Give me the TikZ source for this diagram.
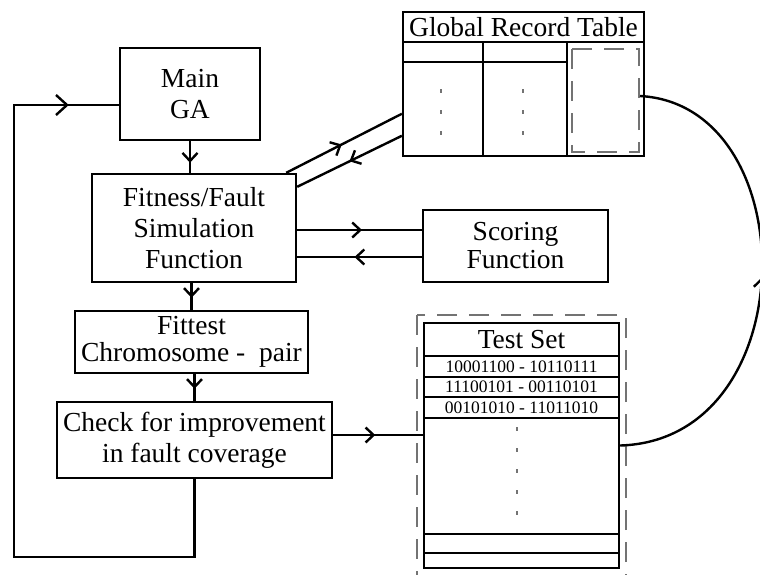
\documentclass[tikz,border=0pt]{standalone}
\usepackage{fontspec}
\setmainfont{Liberation Serif}
\usetikzlibrary{arrows.meta,decorations.markings,calc}
\begin{document}
\begin{tikzpicture}[x=1pt,y=-1pt,line width=2.4pt,
  box/.style={draw,rectangle,inner sep=0pt,align=center,font=\fontsize{27.5}{31}\selectfont},
  big/.style={inner sep=0pt,font=\fontsize{27.5}{31}\selectfont},
  small/.style={inner sep=0pt,font=\fontsize{17.5}{20}\selectfont},
  midarrow/.style={postaction={decorate},decoration={markings,mark=at position #1 with {\arrow{Straight Barb[length=8pt,width=15pt]}}}},
  loopstyle/.style={postaction={decorate},decoration={markings,mark=at position #1 with {\arrow{Straight Barb[length=11pt,width=20pt]}}}},
  faint/.style={draw=black!55,line width=1.5pt,dash pattern=on 20pt off 12pt},
  dots/.style={draw=black!55,line width=1.5pt,dash pattern=on 4pt off 17pt}]
\useasboundingbox (0,0) rectangle (760,574);
\clip (0,0) rectangle (760,574);

% boxes
\node[box,minimum width=140pt,minimum height=92pt] (main) at (190,94) {Main\\GA};
\node[box,minimum width=204pt,minimum height=108pt] (fit) at (194,228) {Fitness/Fault\\Simulation\\Function};
\node[box,minimum width=233pt,minimum height=62pt,font=\fontsize{27.5}{27}\selectfont] (fittest) at (191.5,342) {Fittest\\Chromosome - \ pair};
\node[box,minimum width=275pt,minimum height=76pt] (check) at (194.5,440) {Check for improvement\\in fault coverage};
\node[box,minimum width=185pt,minimum height=72pt,font=\fontsize{27.5}{28}\selectfont] (score) at (515.5,246) {Scoring\\Function};

% Global Record Table
\node[box,minimum width=241pt,minimum height=144pt] (grt) at (523.5,84) {};
\node[big] (grttitle) at (523.5,27) {Global Record Table};
\draw (403,42) -- (644,42);
\draw (483,42) -- (483,156);
\draw (567,42) -- (567,156);
\draw (403,62) -- (567,62);
\draw[dots] (441,89) -- (441,135);
\draw[dots] (523,89) -- (523,135);
\draw[faint] (572,49) rectangle (639,152);

% Test Set
\node[box,minimum width=195pt,minimum height=245pt] (test) at (521.5,445.5) {};
\node[big] (testtitle) at (521.5,340) {Test Set};
\foreach \yy in {356,377,397,418,534,553} \draw (424,\yy) -- (619,\yy);
\node[small] (r1) at (521.5,366.5) {10001100 - 10110111};
\node[small] (r2) at (521.5,387) {11100101 - 00110101};
\node[small] (r3) at (521.5,407.5) {00101010 - 11011010};
\draw[dots] (517,427) -- (517,520);
\draw[faint] (417,315) rectangle (626,590);

% connectors
\draw[midarrow=0.68] (main.south) -- (main.south |- fit.north);
\draw[midarrow=0.55] (fittest.north |- fit.south) -- (fittest.north);
\draw[midarrow=0.55] (check.north |- fittest.south) -- (check.north);
\coordinate (t1) at ($(check.east)+(0,-5)$);
\draw[midarrow=0.47] (t1) -- (t1 -| test.west);

\coordinate (loopa) at (14,557);
\coordinate (mainin) at ($(main.west)+(0,11)$);
\draw[loopstyle=-50pt] (check.south) |- (loopa) |- (mainin);

\coordinate (fa) at ($(fit.north east)+(-11,0)$);
\coordinate (ga) at ($(grt.north west)+(0,103)$);
\coordinate (gb) at ($(grt.north west)+(0,125)$);
\coordinate (fb) at ($(fit.north east)+(0,14)$);
\draw[midarrow=0.48] (fa) -- (ga);
\draw[midarrow=0.5] (gb) -- (fb);

\coordinate (s1) at ($(score.west)+(0,-16)$);
\coordinate (s2) at ($(score.west)+(0,11)$);
\draw[midarrow=0.52] (fit.east |- s1) -- (s1);
\draw[midarrow=0.54] (s2) -- (fit.east |- s2);

\coordinate (gin) at (640,96);
\draw[midarrow=0.5] (test.east) .. controls (806,440) and (806,105) .. (gin);
\end{tikzpicture}
\end{document}
